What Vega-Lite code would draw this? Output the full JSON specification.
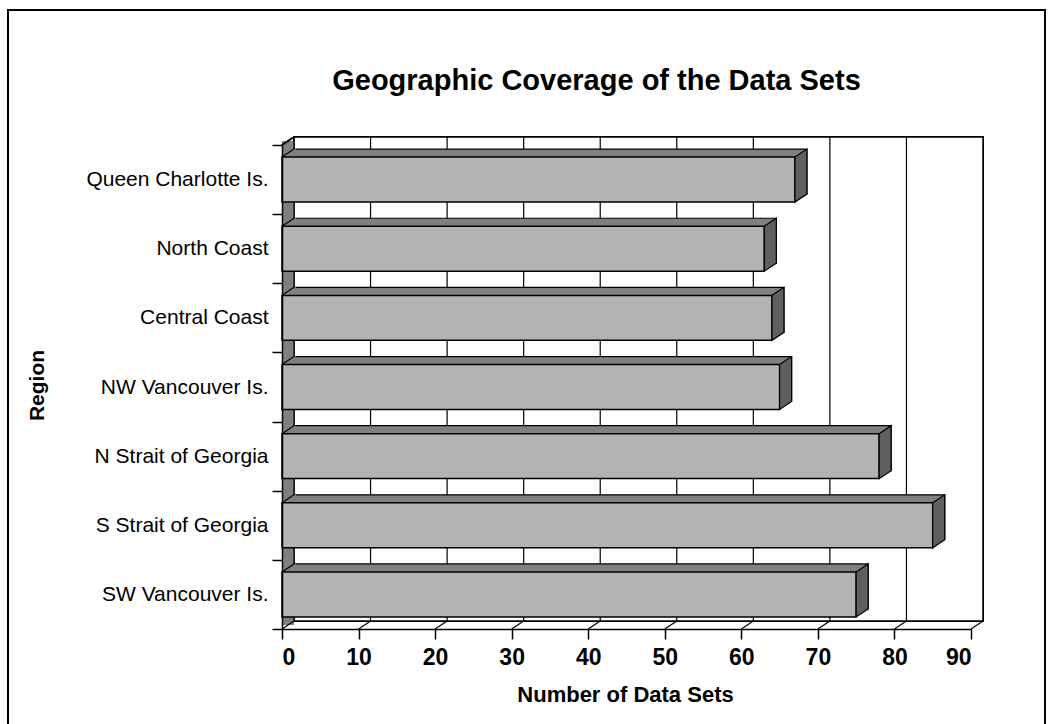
{
  "$schema": "https://vega.github.io/schema/vega-lite/v6.json",
  "width": 1037,
  "height": 716,
  "autosize": {"type": "none"},
  "padding": {"left": 8, "top": 10, "right": 8, "bottom": -2},
  "background": "white",
  "title": {
    "text": "Geographic Coverage of the Data Sets",
    "font": "Liberation Sans",
    "fontSize": 29,
    "fontWeight": "bold",
    "color": "black",
    "anchor": "middle",
    "dx": 70,
    "offset": -120,
    "baseline": "alphabetic"
  },
  "datasets": {
    "regions": [
      {"region": "Queen Charlotte Is.", "value": 67},
      {"region": "North Coast", "value": 63},
      {"region": "Central Coast", "value": 64},
      {"region": "NW Vancouver Is.", "value": 65},
      {"region": "N Strait of Georgia", "value": 78},
      {"region": "S Strait of Georgia", "value": 85},
      {"region": "SW Vancouver Is.", "value": 75}
    ],
    "grid": [{"t": 0}, {"t": 10}, {"t": 20}, {"t": 30}, {"t": 40}, {"t": 50}, {"t": 60}, {"t": 70}, {"t": 80}],
    "floor": [{"t": 0}, {"t": 10}, {"t": 20}, {"t": 30}, {"t": 40}, {"t": 50}, {"t": 60}, {"t": 70}, {"t": 80}, {"t": 90}]
  },
  "data": {"name": "regions"},
  "layer": [
    {
      "mark": {"type": "rect", "fill": "white", "stroke": "black", "strokeWidth": 1.5, "xOffset": 12, "x2Offset": 12, "yOffset": -8, "y2Offset": -8},
      "encoding": {
        "x": {"datum": 0, "type": "quantitative", "title": "Number of Data Sets",
          "scale": {"domain": [0, 90], "range": [274, 963], "nice": false, "zero": true},
          "axis": {"values": [0, 10, 20, 30, 40, 50, 60, 70, 80, 90]}},
        "x2": {"datum": 90},
        "y": {"datum": "Queen Charlotte Is.", "type": "nominal", "bandPosition": 0, "title": "Region",
          "scale": {"type": "band", "domain": ["Queen Charlotte Is.", "North Coast", "Central Coast", "NW Vancouver Is.", "N Strait of Georgia", "S Strait of Georgia", "SW Vancouver Is."], "range": [135, 619], "paddingInner": 0, "paddingOuter": 0}},
        "y2": {"datum": "SW Vancouver Is.", "bandPosition": 1}
      }
    },
    {
      "mark": {"type": "rect", "fill": "#808080", "strokeWidth": 0, "x2Offset": 12, "yOffset": -4, "y2Offset": -4},
      "encoding": {
        "x": {"datum": 0, "type": "quantitative", "title": "Number of Data Sets"},
        "x2": {"datum": 0},
        "y": {"datum": "Queen Charlotte Is.", "type": "nominal", "bandPosition": 0, "title": "Region"},
        "y2": {"datum": "SW Vancouver Is.", "bandPosition": 1}
      }
    },
    {
      "data": {"name": "grid"},
      "mark": {"type": "rule", "color": "black", "strokeWidth": 1.2, "xOffset": 12, "yOffset": -8, "y2Offset": -8},
      "encoding": {
        "x": {"field": "t", "type": "quantitative", "title": "Number of Data Sets"},
        "y": {"datum": "Queen Charlotte Is.", "type": "nominal", "bandPosition": 0, "title": "Region"},
        "y2": {"datum": "SW Vancouver Is.", "bandPosition": 1}
      }
    },
    {
      "mark": {"type": "rule", "color": "black", "strokeWidth": 1.2, "x2Offset": 12, "y2Offset": -8},
      "encoding": {
        "x": {"datum": 0, "type": "quantitative", "title": "Number of Data Sets"},
        "x2": {"datum": 0},
        "y": {"datum": "Queen Charlotte Is.", "type": "nominal", "bandPosition": 0, "title": "Region"},
        "y2": {"datum": "Queen Charlotte Is.", "bandPosition": 0}
      }
    },
    {
      "data": {"name": "floor"},
      "mark": {"type": "rule", "color": "black", "strokeWidth": 1.2, "x2Offset": 12, "y2Offset": -8},
      "encoding": {
        "x": {"field": "t", "type": "quantitative", "title": "Number of Data Sets"},
        "x2": {"field": "t"},
        "y": {"datum": "SW Vancouver Is.", "type": "nominal", "bandPosition": 1, "title": "Region"},
        "y2": {"datum": "SW Vancouver Is.", "bandPosition": 1}
      }
    },
    {
      "mark": {"type": "bar", "fill": "#808080", "stroke": "black", "strokeWidth": 1.2, "height": {"band": 0.65}, "xOffset": 12, "x2Offset": 12, "yOffset": -8, "y2Offset": -8},
      "encoding": {
        "x": {"field": "value", "type": "quantitative", "title": "Number of Data Sets"},
        "y": {"field": "region", "type": "nominal", "title": "Region"}
      }
    },
    {
      "mark": {"type": "point", "shape": "M0,-22.5 L12,-30.5 L14,-30.5 L14,-22.5 Z", "size": 4, "filled": true, "fill": "#808080", "strokeWidth": 0, "opacity": 1},
      "encoding": {
        "x": {"datum": 0, "type": "quantitative", "title": "Number of Data Sets"},
        "y": {"field": "region", "type": "nominal", "title": "Region"}
      }
    },
    {
      "mark": {"type": "point", "shape": "M0,-22.5 L12,-30.5", "size": 4, "filled": false, "stroke": "black", "strokeWidth": 1.2, "opacity": 1},
      "encoding": {
        "x": {"datum": 0, "type": "quantitative", "title": "Number of Data Sets"},
        "y": {"field": "region", "type": "nominal", "title": "Region"}
      }
    },
    {
      "mark": {"type": "bar", "fill": "#b3b3b3", "stroke": "black", "strokeWidth": 1.5, "height": {"band": 0.65}},
      "encoding": {
        "x": {"field": "value", "type": "quantitative", "title": "Number of Data Sets"},
        "y": {"field": "region", "type": "nominal", "title": "Region"}
      }
    },
    {
      "mark": {"type": "point", "shape": "M0,-22.5 L12,-30.5 L12,14.5 L0,22.5 Z", "size": 4, "filled": true, "fill": "#5f5f5f", "stroke": "black", "strokeWidth": 1.2, "opacity": 1},
      "encoding": {
        "x": {"field": "value", "type": "quantitative", "title": "Number of Data Sets"},
        "y": {"field": "region", "type": "nominal", "title": "Region"}
      }
    }
  ],
  "config": {
    "view": {"stroke": "black", "strokeWidth": 2},
    "axisY": {
      "offset": -274,
      "domainColor": "black", "domainWidth": 1.5,
      "tickColor": "black", "tickWidth": 1.5, "tickSize": 10, "tickBand": "extent",
      "grid": false,
      "labelFont": "Liberation Sans", "labelFontSize": 21, "labelColor": "black", "labelPadding": 4, "labelLimit": 400,
      "titleFont": "Liberation Sans", "titleFontSize": 21, "titleFontWeight": "bold", "titleColor": "black",
      "titleX": -245, "titleY": 375, "titleAngle": -90, "titleAlign": "center", "titleBaseline": "middle"
    },
    "axisX": {
      "offset": -97,
      "domainColor": "black", "domainWidth": 1.5,
      "tickColor": "black", "tickWidth": 1.5, "tickSize": 10,
      "grid": false,
      "labelFont": "Liberation Sans", "labelFontSize": 23, "labelFontWeight": "bold", "labelColor": "black", "labelPadding": 7,
      "titleFont": "Liberation Sans", "titleFontSize": 22, "titleFontWeight": "bold", "titleColor": "black",
      "titleX": 617, "titleY": 65, "titleAlign": "center", "titleBaseline": "middle"
    }
  }
}
